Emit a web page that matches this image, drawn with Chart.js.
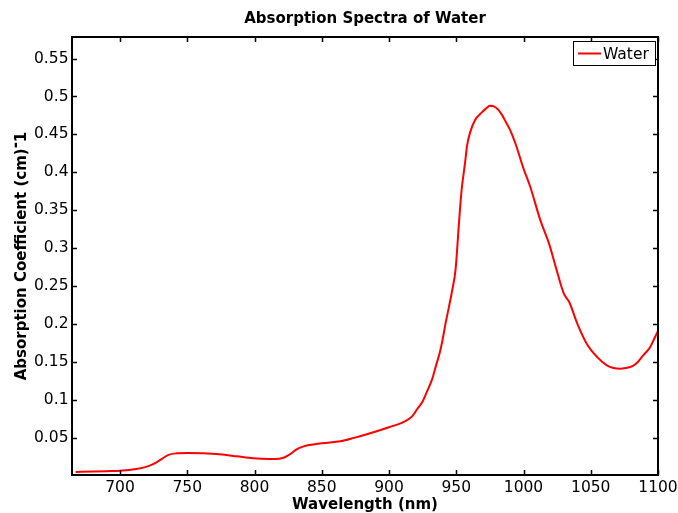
<!DOCTYPE html>
<html><head><meta charset="utf-8">
<script src="https://cdn.jsdelivr.net/npm/chart.js@4.4.0/dist/chart.umd.min.js"></script>
<style>html,body{margin:0;padding:0;background:#fff;overflow:hidden;}</style>
</head><body>
<canvas id="c" width="678" height="513" style="display:block;width:678px;height:513px"></canvas>
<script>
const chartTitle = 'Absorption Spectra of Water';
const xLabel = 'Wavelength (nm)';
const yLabel = 'Absorption Coefficient (cm)';
const seriesName = 'Water';
const wavelengths = [667,680,690,700,712,720,725,730,736,742,750,762,774,787,799,811,815,821,826,831,836,850,864,874,886,900,911,917,921,925,928,932,935,938,940,942,944.5,947,949.5,952,954,956.5,958,960.5,964,969,972,975,978,981,984,987,990,994,1000,1005,1012.5,1019,1024,1030,1034,1040,1047,1055,1062,1067,1072,1076,1081,1085,1089,1094,1097,1100];
const absorption = [0.005,0.0055,0.006,0.0067,0.009,0.012,0.0156,0.0209,0.0275,0.0296,0.0301,0.0296,0.0283,0.0256,0.023,0.0222,0.0222,0.0235,0.0279,0.0345,0.0384,0.0428,0.0454,0.0499,0.056,0.064,0.0711,0.078,0.088,0.098,0.110,0.127,0.1455,0.164,0.181,0.2005,0.222,0.2445,0.272,0.333,0.377,0.412,0.435,0.4537,0.469,0.479,0.484,0.4877,0.487,0.483,0.4757,0.466,0.456,0.438,0.405,0.381,0.337,0.306,0.275,0.240,0.229,0.2005,0.174,0.156,0.1455,0.142,0.141,0.142,0.1445,0.150,0.1587,0.169,0.18,0.191];
const xTicks = [700,750,800,850,900,950,1000,1050,1100];
const yTicks = [0.05,0.1,0.15,0.2,0.25,0.3,0.35,0.4,0.45,0.5,0.55];

const FONT = "'DejaVu Sans', sans-serif";

const framePlugin = {
  id: 'frame',
  afterDraw(chart) {
    const ctx = chart.ctx;
    const a = chart.chartArea;
    const xs = chart.scales.x, ys = chart.scales.y;
    ctx.save();
    ctx.strokeStyle = '#000';
    ctx.lineWidth = 2;
    ctx.strokeRect(a.left, a.top, a.right - a.left, a.bottom - a.top);
    ctx.lineWidth = 1.5;
    const tl = 5;
    ctx.beginPath();
    xs.ticks.forEach(t => {
      const px = Math.round(xs.getPixelForValue(t.value)) + 0.5;
      ctx.moveTo(px, a.bottom); ctx.lineTo(px, a.bottom - tl);
      ctx.moveTo(px, a.top); ctx.lineTo(px, a.top + tl);
    });
    ys.ticks.forEach(t => {
      const py = Math.round(ys.getPixelForValue(t.value)) + 0.5;
      ctx.moveTo(a.left, py); ctx.lineTo(a.left + tl, py);
      ctx.moveTo(a.right, py); ctx.lineTo(a.right - tl, py);
    });
    ctx.stroke();
    ctx.fillStyle = '#000';
    ctx.textAlign = 'center';
    ctx.textBaseline = 'alphabetic';
    ctx.font = 'bold 15px ' + FONT;
    ctx.fillText(chartTitle, (a.left + a.right) / 2, 23);
    ctx.fillText(xLabel, (a.left + a.right) / 2, 509);
    ctx.save();
    ctx.translate(26, (a.top + a.bottom) / 2);
    ctx.rotate(-Math.PI / 2);
    ctx.font = 'bold 15px ' + FONT;
    const w1 = ctx.measureText(yLabel).width;
    const w2 = ctx.measureText('-').width;
    const w3 = ctx.measureText('1').width;
    let sx = -(w1 + w2 + w3) / 2;
    ctx.textAlign = 'left';
    ctx.fillText(yLabel, sx, 0);
    sx += w1;
    ctx.fillText('-', sx, -6);
    sx += w2;
    ctx.fillText('1', sx, 0);
    ctx.restore();
    const lx = 573.5, ly = 41.5, lw = 82, lh = 24;
    ctx.fillStyle = '#fff';
    ctx.fillRect(lx, ly, lw, lh);
    ctx.strokeStyle = '#000';
    ctx.lineWidth = 1;
    ctx.strokeRect(lx, ly, lw, lh);
    ctx.strokeStyle = '#ff0000';
    ctx.lineWidth = 2;
    ctx.beginPath();
    ctx.moveTo(578, 53.5); ctx.lineTo(601, 53.5);
    ctx.stroke();
    ctx.fillStyle = '#000';
    ctx.textAlign = 'left';
    ctx.font = '15.5px ' + FONT;
    ctx.fillText(seriesName, 603, 59.3);
    ctx.restore();
  }
};

const points = wavelengths.map((w, i) => ({ x: w, y: absorption[i] }));

new Chart(document.getElementById('c'), {
  type: 'scatter',
  data: {
    datasets: [{
      label: seriesName,
      data: points,
      showLine: true,
      borderColor: '#ff0000',
      backgroundColor: '#ff0000',
      borderWidth: 2,
      pointRadius: 0,
      cubicInterpolationMode: 'monotone',
      fill: false
    }]
  },
  options: {
    responsive: false,
    animation: false,
    devicePixelRatio: 1,
    layout: { padding: { top: 37, right: 20, left: 0, bottom: 0 } },
    plugins: { legend: { display: false }, title: { display: false }, tooltip: { enabled: false } },
    scales: {
      x: {
        type: 'linear',
        min: 664.3, max: 1100,
        grid: { display: false, drawTicks: false },
        border: { display: false },
        afterBuildTicks: s => { s.ticks = xTicks.map(v => ({ value: v })); },
        afterFit: s => { s.height = 38; s.paddingLeft = 0; s.paddingRight = 0; },
        ticks: { color: '#000', font: { family: FONT, size: 15.5 }, padding: 4, maxRotation: 0, autoSkip: false,
                 callback: v => String(v) }
      },
      y: {
        type: 'linear',
        min: 0.001, max: 0.5784,
        grid: { display: false, drawTicks: false },
        border: { display: false },
        afterBuildTicks: s => { s.ticks = yTicks.map(v => ({ value: v })); },
        afterFit: s => { s.width = 72; s.paddingTop = 0; s.paddingBottom = 0; },
        ticks: { color: '#000', font: { family: FONT, size: 15.5 }, padding: 3.5, autoSkip: false,
                 callback: v => String(Number(v.toFixed(2))) }
      }
    }
  },
  plugins: [framePlugin]
});
</script>
</body></html>
